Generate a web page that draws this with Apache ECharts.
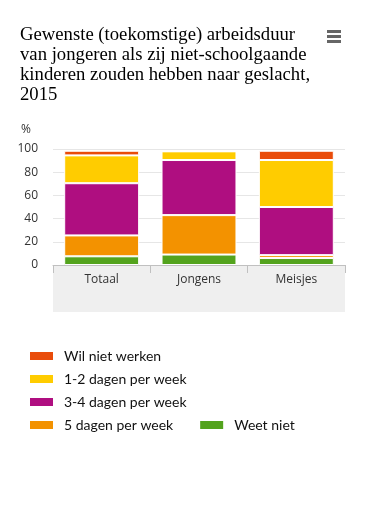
<!DOCTYPE html>
<html><head><meta charset="utf-8">
<script src="https://cdn.jsdelivr.net/npm/echarts@6/dist/echarts.min.js"></script>
<style>html,body{margin:0;padding:0;background:#fff}#c{width:370px;height:525px}</style>
</head><body><div id="c"></div>
<script>
var categories = ['Totaal', 'Jongens', 'Meisjes'];
var weetNiet = [7.5, 9, 6];
var vijfDagen = [18, 34, 2.5];
var drieVierDagen = [45, 47.5, 41.5];
var eenTweeDagen = [24, 7.5, 40.5];
var wilNietWerken = [4, 0, 8];
var yTicks = [0, 20, 40, 60, 80, 100];

var chart = echarts.init(document.getElementById('c'));
var txt = '#333';
var legendFont = {fontFamily: 'Lato', fontSize: 14, color: '#111', padding: [0, 0, 0, 5]};
function mkSeries(name, data, color) {
  return {name: name, type: 'bar', stack: 's', data: data, barCategoryGap: '23%',
    itemStyle: {color: color, borderColor: '#fff', borderWidth: 1}};
}
function mkLegend(names, left, top) {
  return {data: names, left: left, top: top, orient: 'horizontal', itemWidth: 25, itemHeight: 10,
    padding: 0, itemGap: 25, textStyle: legendFont, icon: 'rect', selectedMode: false};
}
chart.setOption({
  animation: false,
  title: {text: 'Gewenste (toekomstige) arbeidsduur\nvan jongeren als zij niet-schoolgaande\nkinderen zouden hebben naar geslacht,\n2015',
    left: 15, top: 20, textStyle: {fontFamily: 'Liberation Serif', fontSize: 18.7, fontWeight: 'normal', color: '#000', lineHeight: 20}},
  graphic: [
    {type: 'rect', left: 53, top: 265, shape: {width: 292, height: 47}, style: {fill: '#efefef'}, z: -10},
    {type: 'rect', left: 327, top: 30, shape: {width: 14, height: 3}, style: {fill: '#666'}},
    {type: 'rect', left: 327, top: 35, shape: {width: 14, height: 3}, style: {fill: '#666'}},
    {type: 'rect', left: 327, top: 40, shape: {width: 14, height: 3}, style: {fill: '#666'}},
    {type: 'text', left: 21, top: 124, style: {text: '%', font: '12px "Open Sans"', fill: txt}}
  ],
  legend: [
    mkLegend(['Wil niet werken'], 28, 349),
    mkLegend(['1-2 dagen per week'], 28, 372),
    mkLegend(['3-4 dagen per week'], 28, 395),
    mkLegend(['5 dagen per week', 'Weet niet'], 28, 418)
  ],
  grid: {left: 53, right: 25, top: 149, bottom: 260, containLabel: false},
  xAxis: {type: 'category', data: categories,
    axisLine: {lineStyle: {color: '#c0c0c0'}},
    axisTick: {show: true, length: 8, lineStyle: {color: '#c0c0c0'}},
    axisLabel: {fontFamily: 'Open Sans', fontSize: 12, color: txt, margin: 9}},
  yAxis: {type: 'value', min: 0, max: 100, interval: 20,
    axisLabel: {fontFamily: 'Open Sans', fontSize: 12, color: txt, margin: 15},
    splitLine: {lineStyle: {color: '#e6e6e6'}}, axisLine: {show: false}, axisTick: {show: false}},
  series: [
    mkSeries('Weet niet', weetNiet, '#53a31d'),
    mkSeries('5 dagen per week', vijfDagen, '#f39200'),
    mkSeries('3-4 dagen per week', drieVierDagen, '#af0e80'),
    mkSeries('1-2 dagen per week', eenTweeDagen, '#ffcc00'),
    mkSeries('Wil niet werken', wilNietWerken, '#e94c0a')
  ]
});
</script></body></html>
